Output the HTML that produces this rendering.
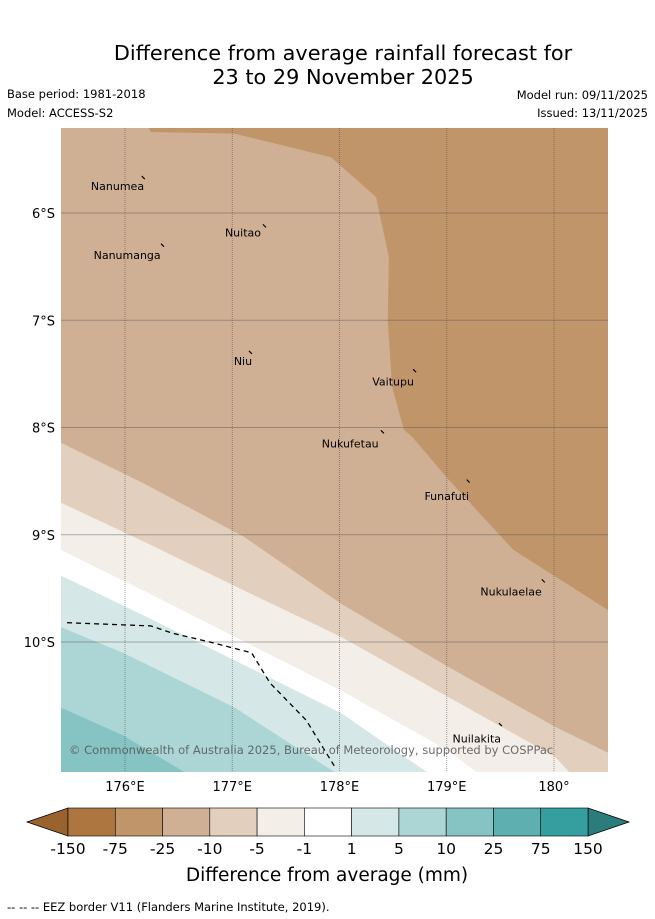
<!DOCTYPE html>
<html><head><meta charset="utf-8">
<style>
html,body{margin:0;padding:0;background:#fff;}
svg{display:block;font-family:"DejaVu Sans","Liberation Sans",sans-serif;}
</style></head>
<body>
<svg id="chart" width="655" height="919" viewBox="0 0 655 919" xmlns="http://www.w3.org/2000/svg">
<text x="343" y="60" font-size="20.8" text-anchor="middle" fill="#000">Difference from average rainfall forecast for</text>
<text x="343" y="84" font-size="20.8" text-anchor="middle" fill="#000">23 to 29 November 2025</text>
<text x="7" y="98" font-size="11.5">Base period: 1981-2018</text>
<text x="7" y="117" font-size="11.5">Model: ACCESS-S2</text>
<text x="648" y="99" font-size="11.5" text-anchor="end">Model run: 09/11/2025</text>
<text x="648" y="117" font-size="11.5" text-anchor="end">Issued: 13/11/2025</text>
<g id="map"></g>
<g id="cbar"></g>
<text x="327" y="881" font-size="18.5" text-anchor="middle">Difference from average (mm)</text>
<text x="7" y="911" font-size="11.5">--  --  -- EEZ border V11 (Flanders Marine Institute, 2019).</text>
</svg>
<script>
// ---- data ----
const lonTicks = [176, 177, 178, 179, 180];
const lonTickLabels = ["176°E", "177°E", "178°E", "179°E", "180°"];
const latTicks = [-6, -7, -8, -9, -10];
const latTickLabels = ["6°S", "7°S", "8°S", "9°S", "10°S"];
const levelLabels = ["-150","-75","-25","-10","-5","-1","1","5","10","25","75","150"];
const levelColors = ["#ad7641","#c0956a","#d0b094","#e2cfbd","#f3eee8","#ffffff","#d5e8e7","#acd6d6","#85c4c3","#5eb0b0","#359e9e"];
// contour boundaries as [lon, lat]; each separates lower (SW) band from upper (NE) band
const boundaryA = [[175.3,-10.56],[175.4,-10.61],[175.98,-10.87],[176.55,-11.21],[176.7,-11.47]];
const boundaryB = [[175.3,-9.82],[175.4,-9.86],[175.98,-10.1],[177.02,-10.61],[177.95,-11.21],[178.28,-11.47]];
const boundaryC = [[175.3,-9.33],[175.4,-9.38],[176.21,-9.77],[177.02,-10.17],[178.01,-10.66],[178.81,-11.21],[179.18,-11.47]];
const boundaryD = [[175.3,-9.09],[175.4,-9.14],[176.21,-9.54],[177.08,-9.98],[178.01,-10.45],[179.01,-11.01],[179.27,-11.21],[179.68,-11.47]];
const boundaryE = [[175.3,-8.65],[175.4,-8.7],[176.21,-9.08],[177.11,-9.52],[178.01,-9.95],[179.01,-10.51],[180.01,-11.07],[180.14,-11.21],[180.43,-11.47]];
const boundaryF = [[175.3,-8.09],[175.4,-8.14],[176.21,-8.54],[177.11,-9.02],[178.01,-9.64],[179.01,-10.23],[180.01,-10.79],[180.5,-11.03],[180.71,-11.14]];
const boundaryG = [[176.17,-5.1],[176.24,-5.245],[177.02,-5.26],[177.92,-5.48],[178.34,-5.85],[178.46,-6.41],[178.45,-7.0],[178.49,-7.62],[178.6,-8.02],[178.68,-8.09],[179.02,-8.49],[179.62,-9.14],[180.5,-9.7],[180.71,-9.81]];
const boundaries = [boundaryA, boundaryB, boundaryC, boundaryD, boundaryE, boundaryF, boundaryG];
const bandColors = ["#85c4c3","#acd6d6","#d5e8e7","#ffffff","#f3eee8","#e2cfbd","#d0b094","#c0956a"];
const eezLine = [[175.46,-9.82],[175.98,-9.84],[176.24,-9.85],[176.45,-9.92],[176.79,-10.0],[177.18,-10.1],[177.35,-10.38],[177.69,-10.73],[177.96,-11.17]];
const islandNames = ["Nanumea","Nuitao","Nanumanga","Niu","Vaitupu","Nukufetau","Funafuti","Nukulaelae","Nuilakita"];
const islandLon = [176.17,177.3,176.35,177.17,178.7,178.4,179.2,179.9,179.5];
const islandLat = [-5.67,-6.12,-6.3,-7.3,-7.47,-8.04,-8.5,-9.43,-10.77];
const labelLon = [175.93,177.1,176.02,177.1,178.5,178.1,179.0,179.6,179.28];
const labelLat = [-5.75,-6.18,-6.39,-7.38,-7.57,-8.15,-8.64,-9.53,-10.9];

// ---- axes ----
const X0=61, X1=608, Y0=128, Y1=772;
const xScale = lon => 125 + (lon-176)*107.25;
const yScale = lat => 213 + (-lat-6)*107.25;
const NS="http://www.w3.org/2000/svg";
function mk(tag, attrs, parent){const e=document.createElementNS(NS,tag);for(const k in attrs)e.setAttribute(k,attrs[k]);parent.appendChild(e);return e;}
const map=document.getElementById('map');
const defs=mk('defs',{},map);
const cp=mk('clipPath',{id:'clip'},defs);
mk('rect',{x:X0,y:Y0,width:X1-X0,height:Y1-Y0},cp);
const g=mk('g',{'clip-path':'url(#clip)'},map);
const bg=mk('rect',{x:X0,y:Y0,width:X1-X0,height:Y1-Y0,fill:bandColors[0]},g);


boundaries.forEach((b,i)=>{
  const pts=b.map(p=>[xScale(p[0]),yScale(p[1])]);
  const last=pts[pts.length-1];
  if(last[1]>=Y1) pts.push([X1+40,Y1+40]);
  pts.push([X1+40,Y0-40]);
  if(pts[0][0]<=X0+5) pts.push([X0-40,Y0-40]);
  const poly=mk('polygon',{points:pts.map(p=>p.join(',')).join(' '),fill:bandColors[i+1]},g);
  
  
});
// grid
lonTicks.forEach((lon,i)=>{
  const x=xScale(lon);
  const l=mk('line',{x1:x,x2:x,y1:Y0,y2:Y1,stroke:'#555','stroke-width':0.8,'stroke-dasharray':'1,1','stroke-opacity':0.7},g);
  
  
  const t=mk('text',{x:x,y:791,'font-size':13,'text-anchor':'middle'},map);
  t.textContent=lonTickLabels[i];
  
  
});
latTicks.forEach((lat,i)=>{
  const y=yScale(lat);
  const l=mk('line',{x1:X0,x2:X1,y1:y,y2:y,stroke:'#555','stroke-width':0.9,'stroke-opacity':0.45},g);
  
  
  const t=mk('text',{x:55,y:y+5,'font-size':13,'text-anchor':'end'},map);
  t.textContent=latTickLabels[i];
  
  
});
// EEZ
const eez=mk('polyline',{points:eezLine.map(p=>xScale(p[0])+','+yScale(p[1])).join(' '),fill:'none',stroke:'#000','stroke-width':1.3,'stroke-dasharray':'5,4'},g);


// islands
islandNames.forEach((n,i)=>{
  const x=xScale(islandLon[i]), y=yScale(islandLat[i]);
  const m=mk('line',{x1:x-1.5,y1:y-1.5,x2:x+1.5,y2:y+1.5,stroke:'#000','stroke-width':1.2},g);
  
  
  const t=mk('text',{x:xScale(labelLon[i]),y:yScale(labelLat[i])+4,'font-size':11,'text-anchor':'middle'},g);
  t.textContent=n;
  
  
});
const cr=mk('text',{x:69,y:754,'font-size':11.5,fill:'#555','fill-opacity':0.85},g);
cr.textContent='© Commonwealth of Australia 2025, Bureau of Meteorology, supported by COSPPac';



// ---- colorbar ----
const cb=document.getElementById('cbar');
const CB0=68, CB1=588, CT=808, CBt=836, n=levelColors.length, w=(CB1-CB0)/n;
const la=mk('polygon',{points:`27,822 ${CB0},${CT} ${CB0},${CBt}`,fill:'#9a622e',stroke:'#000','stroke-width':0.8},cb);


const ra=mk('polygon',{points:`629,822 ${CB1},${CT} ${CB1},${CBt}`,fill:'#2c7c7c',stroke:'#000','stroke-width':0.8},cb);


levelColors.forEach((c,i)=>{
  const r=mk('rect',{x:CB0+i*w,y:CT,width:w,height:CBt-CT,fill:c,stroke:'#000','stroke-width':0.6},cb);
  
  
});
levelLabels.forEach((s,i)=>{
  const t=mk('text',{x:CB0+i*w,y:854,'font-size':15.5,'text-anchor':'middle'},cb);
  t.textContent=s;
  
  
});
</script>
</body></html>
